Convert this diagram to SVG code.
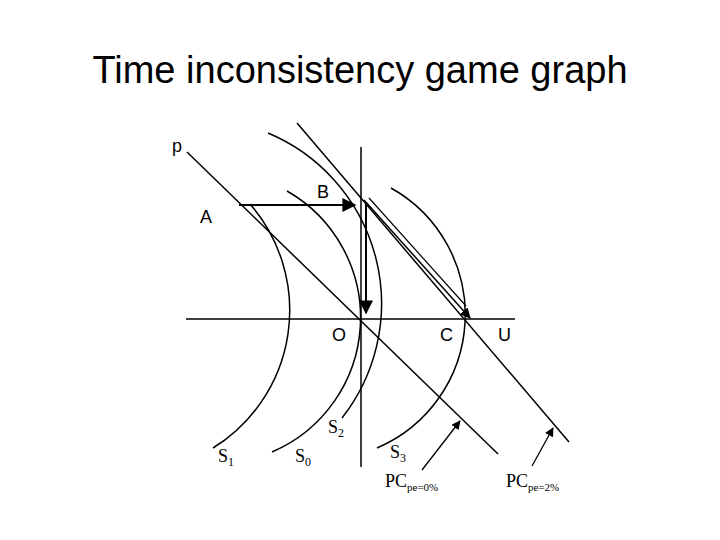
<svg xmlns="http://www.w3.org/2000/svg" width="720" height="540" viewBox="0 0 720 540">
<style>
.l{stroke:#000;stroke-width:1.5;fill:none}
.a{font-family:"Liberation Sans",Arial,sans-serif;font-size:18px}
.s{font-family:"Liberation Serif","Times New Roman",serif;font-size:18px}
</style>
<defs><marker id="m" viewBox="0 0 10 10" refX="9" refY="5" markerWidth="7" markerHeight="7" orient="auto"><path d="M0,0L10,5L0,10z"/></marker></defs>
<rect width="720" height="540" fill="#fff"/>
<text x="360" y="83" text-anchor="middle" font-family="Liberation Sans,Arial,sans-serif" font-size="38">Time inconsistency game graph</text>
<g id="axes"><line class="l" x1="186" y1="319" x2="515" y2="319"/><line class="l" x1="361" y1="147" x2="361" y2="467"/></g>
<g id="curves">
<path class="l" d="M250,204A162,162 0 0 1 213,448"/>
<path class="l" d="M287,191A146,146 0 0 1 272,452"/>
<path class="l" d="M268,133A185,185 0 0 1 342,418"/>
<path class="l" d="M391,188A145,145 0 0 1 377,448"/>
<line class="l" x1="187" y1="152" x2="498" y2="454"/>
<line class="l" x1="297" y1="123" x2="569" y2="442"/>
</g>
<g id="connectors" stroke="#000" fill="none">
<line x1="239" y1="205" x2="355" y2="205" stroke-width="2" marker-end="url(#m)"/>
<line x1="366" y1="203" x2="366" y2="313" stroke-width="2" marker-end="url(#m)"/>
<line x1="364" y1="200" x2="470" y2="318" stroke-width="1.5" marker-end="url(#m)"/>
<line x1="369" y1="198" x2="466" y2="306" stroke-width="1.2"/>
<line x1="422" y1="470" x2="460" y2="421" stroke-width="1.3" marker-end="url(#m)"/>
<line x1="532" y1="466" x2="553" y2="428" stroke-width="1.3" marker-end="url(#m)"/>
</g>
<g id="labels">
<text class="a" x="172" y="152">p</text>
<text class="a" x="200" y="223">A</text>
<text class="a" x="317" y="198">B</text>
<text class="a" x="332" y="341">O</text>
<text class="a" x="440" y="341">C</text>
<text class="a" x="498" y="341">U</text>
<text class="s" x="218" y="462">S<tspan font-size="12" dy="4">1</tspan></text>
<text class="s" x="295" y="462">S<tspan font-size="12" dy="4">0</tspan></text>
<text class="s" x="328" y="433">S<tspan font-size="12" dy="4">2</tspan></text>
<text class="s" x="390" y="458">S<tspan font-size="12" dy="4">3</tspan></text>
<text class="s" x="385" y="487">PC<tspan font-size="11" dy="4">pe=0%</tspan></text>
<text class="s" x="506" y="487">PC<tspan font-size="11" dy="4">pe=2%</tspan></text>
</g>
</svg>
